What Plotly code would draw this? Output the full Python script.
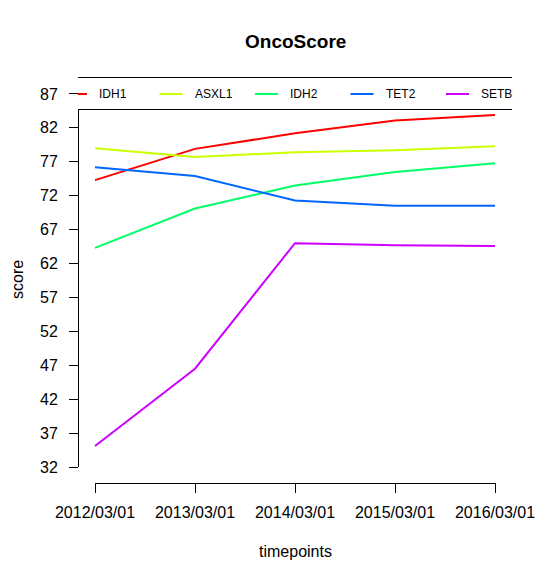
import plotly.graph_objects as go

# values
timepoints = ["2012/03/01", "2013/03/01", "2014/03/01", "2015/03/01", "2016/03/01"]
genes = ["IDH1", "ASXL1", "IDH2", "TET2", "SETBP1"]
colors = ["#FF0000", "#CCFF00", "#00FF66", "#0066FF", "#CC00FF"]

idh1 = [74.3, 78.9, 81.2, 83.1, 83.9]
asxl1 = [79.0, 77.7, 78.4, 78.7, 79.3]
idh2 = [64.3, 70.1, 73.5, 75.5, 76.8]
tet2 = [76.2, 74.9, 71.3, 70.5, 70.5]
setbp1 = [35.1, 46.5, 65.0, 64.7, 64.6]

y_ticks = [32, 37, 42, 47, 52, 57, 62, 67, 72, 77, 82, 87]

series = [idh1, asxl1, idh2, tet2, setbp1]
xs = list(range(1, len(timepoints) + 1))
font = "Liberation Sans, Arial, sans-serif"

# the page body has an 8px margin, so the figure starts at (8, 8)
OFF = 8
W, H = 552 - OFF, 581 - OFF
L, R, T, B = 79 - OFF, 41, 79 - OFF, 99
pw, ph = W - L - R, H - T - B


def px_x(p):
    # page pixel -> paper x
    return (p - OFF - L) / pw


def px_y(p):
    # page pixel -> paper y
    return (H - B - (p - OFF)) / ph


fig = go.Figure()
for name, vals, col in zip(genes, series, colors):
    fig.add_trace(go.Scatter(x=xs, y=vals, mode="lines", name=name,
                             line=dict(color=col, width=2), showlegend=False))

shapes = []
annotations = []

# axis lines, only between first and last tick like base R
shapes.append(dict(type="line", xref="paper", yref="y", x0=px_x(78.5), x1=px_x(78.5),
                   y0=y_ticks[0], y1=y_ticks[-1], line=dict(color="black", width=1)))
shapes.append(dict(type="line", xref="x", yref="paper", x0=xs[0], x1=xs[-1],
                   y0=px_y(483.5), y1=px_y(483.5), line=dict(color="black", width=1)))

# legend box across the top, clipped at the plot region
shapes.append(dict(type="rect", xref="paper", yref="paper", x0=px_x(78), x1=px_x(512),
                   y0=px_y(109.5), y1=px_y(77.5), fillcolor="white", line=dict(width=0),
                   layer="above"))
for yy in (77.5, 109.5):
    shapes.append(dict(type="line", xref="paper", yref="paper", x0=px_x(78), x1=px_x(512),
                       y0=px_y(yy), y1=px_y(yy), line=dict(color="black", width=1),
                       layer="above"))
for i, (name, col) in enumerate(zip(genes, colors)):
    start = 64 + i * 95.5
    shapes.append(dict(type="line", xref="paper", yref="paper",
                       x0=px_x(max(start, 78)), x1=px_x(start + 23),
                       y0=px_y(94), y1=px_y(94), line=dict(color=col, width=2),
                       layer="above"))
    annotations.append(dict(text=name, xref="paper", yref="paper", x=px_x(start + 33),
                            y=px_y(94), xanchor="left", yanchor="middle", showarrow=False,
                            font=dict(size=12, color="black")))
# cover the part of the last legend label that falls outside the plot region
annotations.append(dict(text=" ", xref="paper", yref="paper", x=px_x(512), y=px_y(94),
                        xanchor="left", yanchor="middle", showarrow=False, width=60,
                        height=22, bgcolor="white"))

annotations.append(dict(text="<b>OncoScore</b>", xref="paper", yref="paper",
                        x=px_x(295), y=px_y(41), xanchor="center", yanchor="middle",
                        showarrow=False, font=dict(size=19, color="black")))
annotations.append(dict(text="timepoints", xref="paper", yref="paper",
                        x=px_x(295), y=px_y(551), xanchor="center", yanchor="middle",
                        showarrow=False, font=dict(size=16, color="black")))
annotations.append(dict(text="score", xref="paper", yref="paper",
                        x=px_x(17), y=px_y(280), xanchor="center", yanchor="middle",
                        textangle=-90, showarrow=False, font=dict(size=16, color="black")))

fig.update_layout(
    width=W, height=H,
    margin=dict(l=L, r=R, t=T, b=B),
    paper_bgcolor="white", plot_bgcolor="white",
    font=dict(family=font, size=16, color="black"),
    shapes=shapes, annotations=annotations,
    xaxis=dict(range=[0.84, 5.16], tickvals=xs, ticktext=timepoints,
               showgrid=False, zeroline=False, showline=False,
               ticks="outside", ticklen=10, tickcolor="black",
               ticklabelstandoff=6),
    yaxis=dict(range=[29.8, 89.2], tickvals=y_ticks, showgrid=False,
               zeroline=False, showline=False, ticks="outside", ticklen=9,
               tickcolor="black", ticklabelstandoff=8),
)

fig.write_html("out.html")
